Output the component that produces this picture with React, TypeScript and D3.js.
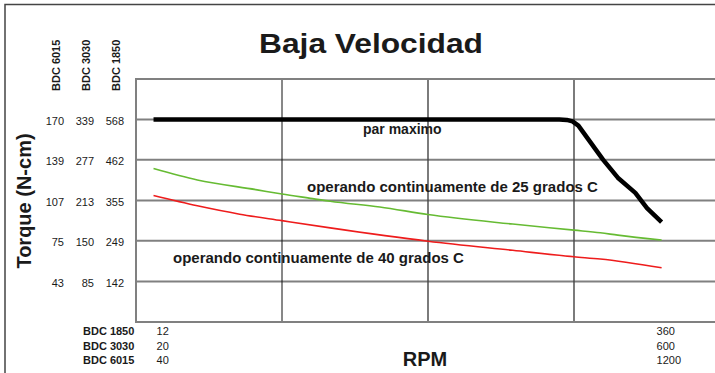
import { useEffect, useRef } from 'react';
import * as d3 from 'd3';

// y axis tick labels, one column per motor model (top to bottom)
const torque6015 = [170, 139, 107, 75, 43];
const torque3030 = [339, 277, 213, 150, 85];
const torque1850 = [568, 462, 355, 249, 142];

// x axis: rpm range per model
const rpmModels = ['BDC 1850', 'BDC 3030', 'BDC 6015'];
const rpmMin = [12, 20, 40];
const rpmMax = [360, 600, 1200];
const rpmGrid = [100, 200, 300];

// curves, in BDC 1850 units (rpm, N-cm)
const maxRpm = [12, 290, 295, 299, 303, 320, 330, 342, 350, 360];
const maxTorque = [568, 568, 567, 563, 552, 462, 415, 375, 335, 298];

const cont25Rpm = [12, 42, 83, 100, 121, 133, 167, 200, 258, 300, 318, 330, 360];
const cont25Torque = [439, 409, 383, 372, 360, 353, 338, 318, 293, 277, 270, 264, 251];

const cont40Rpm = [12, 42, 71, 100, 133, 200, 258, 300, 318, 360];
const cont40Torque = [368, 341, 319, 302, 283, 248, 224, 207, 201, 178];

const FONT = 'Liberation Sans, Arial, Helvetica, sans-serif';

const App = () => {
  const svgRef = useRef<SVGSVGElement>(null);

  useEffect(() => {
    const svg = d3.select(svgRef.current);
    svg.selectAll('*').remove();

    const W = 715;
    const H = 373;
    const plot = { left: 136, top: 79, bottom: 322 };

    const step = (torque1850[0] - torque1850[torque1850.length - 1]) / (torque1850.length - 1);
    const y = d3
      .scaleLinear()
      .domain([torque1850[torque1850.length - 1] - step, torque1850[0] + step])
      .range([plot.bottom, plot.top]);

    const x = d3.scaleLinear().domain([0, 400]).range([plot.left, 720]);

    // outer frame
    svg
      .append('rect')
      .attr('x', 5)
      .attr('y', 4.5)
      .attr('width', W)
      .attr('height', H)
      .attr('fill', 'none')
      .attr('stroke', '#444')
      .attr('stroke-width', 1.5);

    // horizontal grid
    svg
      .append('g')
      .selectAll('line')
      .data(torque1850)
      .enter()
      .append('line')
      .attr('x1', plot.left)
      .attr('x2', W)
      .attr('y1', d => y(d))
      .attr('y2', d => y(d))
      .attr('stroke', '#808080')
      .attr('stroke-width', 2);

    // vertical grid
    svg
      .append('g')
      .selectAll('line')
      .data(rpmGrid)
      .enter()
      .append('line')
      .attr('x1', d => x(d))
      .attr('x2', d => x(d))
      .attr('y1', plot.top)
      .attr('y2', plot.bottom)
      .attr('stroke', (d, i) => (i === 0 ? '#111' : '#444'))
      .attr('stroke-width', (d, i) => (i === 0 ? 1 : 1.4));

    // plot border (top, left, bottom)
    svg
      .append('path')
      .attr('d', `M${W},${plot.top}H${plot.left}V${plot.bottom}H${W}`)
      .attr('fill', 'none')
      .attr('stroke', '#808080')
      .attr('stroke-width', 2);

    const line = (curve: d3.CurveFactory) =>
      d3
        .line<[number, number]>()
        .x(d => x(d[0]))
        .y(d => y(d[1]))
        .curve(curve);

    const series = [
      { rpm: cont25Rpm, torque: cont25Torque, color: '#66bb33', width: 1.6, curve: d3.curveMonotoneX },
      { rpm: cont40Rpm, torque: cont40Torque, color: '#ee1c1c', width: 1.6, curve: d3.curveMonotoneX },
      { rpm: maxRpm, torque: maxTorque, color: '#000', width: 4.5, curve: d3.curveLinear },
    ];

    series.forEach(s => {
      svg
        .append('path')
        .datum(s.rpm.map((r, i) => [r, s.torque[i]] as [number, number]))
        .attr('d', line(s.curve))
        .attr('fill', 'none')
        .attr('stroke', s.color)
        .attr('stroke-width', s.width)
        .attr('stroke-linejoin', 'round');
    });

    const text = (tx: number, ty: number, str: string, size: number, weight = 'normal', anchor = 'start') =>
      svg
        .append('text')
        .attr('x', tx)
        .attr('y', ty)
        .attr('font-family', FONT)
        .attr('font-size', size)
        .attr('font-weight', weight)
        .attr('text-anchor', anchor)
        .attr('fill', '#1a1a1a')
        .text(str);

    // title and curve labels
    text(371, 53, 'Baja Velocidad', 28, 'bold', 'middle').attr('textLength', 224).attr('lengthAdjust', 'spacingAndGlyphs');
    text(363, 134, 'par maximo', 14, 'bold');
    text(307, 192, 'operando continuamente de 25 grados C', 15, 'bold');
    text(173, 263, 'operando continuamente de 40 grados C', 15, 'bold');

    // axis titles
    text(425, 366, 'RPM', 20, 'bold', 'middle');
    text(0, 0, 'Torque (N-cm)', 20, 'bold', 'middle').attr('transform', 'translate(31,201) rotate(-90)');

    // y tick columns
    const cols = [
      { name: 'BDC 6015', vals: torque6015, x: 60 },
      { name: 'BDC 3030', vals: torque3030, x: 90 },
      { name: 'BDC 1850', vals: torque1850, x: 120 },
    ];
    cols.forEach(c => {
      text(0, 0, c.name, 11, 'bold').attr('transform', `translate(${c.x},91) rotate(-90)`);
      c.vals.forEach((v, i) => {
        text(c.x + 4, y(torque1850[i]) + 5, String(v), 11, 'normal', 'end');
      });
    });

    // x tick rows
    rpmModels.forEach((m, i) => {
      const ty = 335 + i * 14.5;
      text(83, ty, m, 11, 'bold');
      text(x(rpmMin[0]) + 3, ty, String(rpmMin[i]), 11);
      text(x(rpmMax[0]) - 5, ty, String(rpmMax[i]), 11);
    });
  }, []);

  return (
    <svg
      ref={svgRef}
      width={715}
      height={373}
      style={{ position: 'absolute', left: 0, top: 0, background: '#fff' }}
    />
  );
};

export default App;
